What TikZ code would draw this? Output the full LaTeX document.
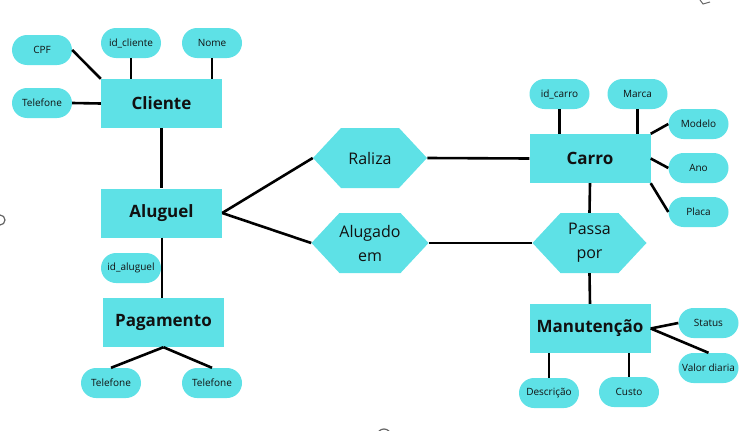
\documentclass[tikz,border=0pt]{standalone}
\usepackage{fontspec}
\setmainfont{Open Sans}
\usetikzlibrary{shapes.symbols}
\definecolor{cy}{HTML}{5EE1E6}
\definecolor{txt}{HTML}{111111}
\definecolor{art}{HTML}{666666}
\tikzset{
  ent/.style={rectangle, fill=cy, minimum width=121pt, minimum height=49pt, inner sep=0pt,
    font=\fontsize{17}{20}\selectfont\bfseries, text=txt},
  attr/.style={rectangle, rounded corners=15pt, fill=cy, minimum width=60pt, minimum height=30pt,
    inner sep=0pt, font=\fontsize{10}{12}\selectfont, text=txt},
  rel/.style={signal, signal to=east and west, signal pointer angle=94, fill=cy,
    minimum width=114pt, minimum height=60pt, inner sep=0pt, align=center,
    font=\fontsize{16}{24}\selectfont, text=txt},
  conn/.style={draw=black, line width=2.6pt},
}
\begin{document}
\begin{tikzpicture}[x=1pt,y=-1pt]
\useasboundingbox (0,0) rectangle (755,431);
% entities
\node[ent] (cliente) at (161.5,103.5) {Cliente};
\node[ent] (aluguel) at (161.5,213) {Aluguel};
\node[ent] (pag) at (163.5,322.5) {Pagamento};
\node[ent] (carro) at (590,158.5) {Carro};
\node[ent] (manut) at (590,328.5) {Manutenção};
% relationships
\node[rel] (raliza) at (370,158) {Raliza};
\node[rel] (alugado) at (370,243) {Alugado\\em};
\node[rel] (passa) at (589.5,243) {Passa\\por};
% attributes
\node[attr] (cpf) at (42,50) {CPF};
\node[attr] (idc) at (131,43) {id\_cliente};
\node[attr] (nome) at (212,43) {Nome};
\node[attr] (telc) at (42,103) {Telefone};
\node[attr] (idal) at (131,268) {id\_aluguel};
\node[attr] (tel1) at (111,383) {Telefone};
\node[attr] (tel2) at (212,383) {Telefone};
\node[attr] (idcar) at (559.5,94) {id\_carro};
\node[attr] (marca) at (637.5,94) {Marca};
\node[attr] (modelo) at (698.5,124) {Modelo};
\node[attr] (ano) at (698.5,168) {Ano};
\node[attr] (placa) at (698.5,212) {Placa};
\node[attr] (status) at (708.5,323) {Status};
\node[attr] (valor) at (708.5,368) {Valor diaria};
\node[attr] (desc) at (549,393) {Descrição};
\node[attr] (custo) at (629,392) {Custo};
% connectors
\draw[conn] (cpf.east) -- (cliente.north west);
\draw[conn] (idc.south) -- (idc.south |- cliente.north);
\draw[conn] (nome.south) -- (nome.south |- cliente.north);
\draw[conn] (telc.east) -- (cliente.west);
\draw[conn] (cliente.south) -- (aluguel.north);
\draw[conn] (aluguel.east) -- (raliza.west);
\draw[conn] (aluguel.east) -- (alugado.west);
\draw[conn] (raliza.east) -- (carro.west);
\draw[conn] (alugado.east) -- (passa.west);
\draw[conn] (carro.south) -- (passa.north);
\draw[conn] (passa.south) -- (manut.north);
\draw[conn] ([xshift=0.5pt]aluguel.south) -- ([xshift=0.5pt]aluguel.south |- pag.north);
\draw[conn] (pag.south) -- (tel1.north);
\draw[conn] (pag.south) -- (tel2.north);
\draw[conn] (idcar.south) -- (idcar.south |- carro.north);
\draw[conn] (marca.south) -- (marca.south |- carro.north);
\draw[conn] (modelo.west) -- (carro.north east);
\draw[conn] (ano.west) -- (carro.east);
\draw[conn] (placa.west) -- (carro.south east);
\draw[conn] (status.west) -- (manut.east);
\draw[conn] (valor.north) -- (manut.east);
\draw[conn] (desc.north) -- (desc.north |- manut.south);
\draw[conn] (custo.north) -- (custo.north |- manut.south);
% small screen artifacts
\coordinate (a1) at (0,210);
\coordinate (a2) at (384,436);
\draw[art, line width=1.2pt] ([yshift=-5pt]a1) arc[start angle=90, end angle=-90, radius=5pt];
\draw[art, line width=1.2pt] ([xshift=-7pt]a2) arc[start angle=180, end angle=0, radius=7pt];
\draw[art, line width=1pt] (700,0) -- (703,4) -- (710,2);
\end{tikzpicture}
\end{document}
